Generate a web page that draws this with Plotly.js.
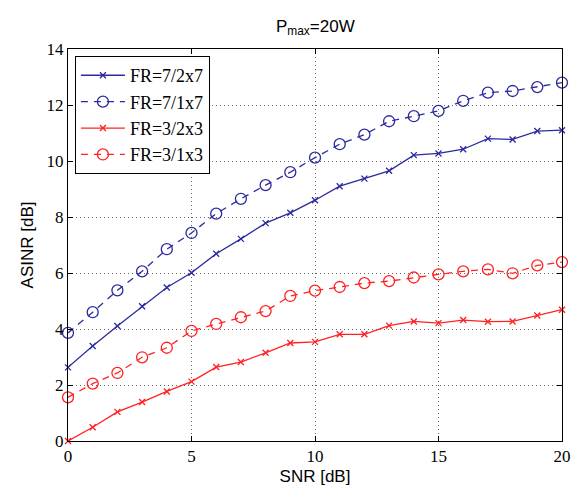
<!DOCTYPE html>
<html>
<head>
<meta charset="utf-8">
<script src="https://cdn.plot.ly/plotly-3.0.1.min.js"></script>
<style>html,body{margin:0;padding:0;background:#fff;}#chart{width:584px;height:494px;}</style>
</head>
<body>
<div id="chart"></div>
<script>
var snr = [0,1,2,3,4,5,6,7,8,9,10,11,12,13,14,15,16,17,18,19,20];
var fr72x7 = [2.63,3.39,4.11,4.81,5.48,6.01,6.69,7.22,7.78,8.15,8.6,9.1,9.37,9.65,10.21,10.27,10.42,10.8,10.77,11.07,11.1];
var fr71x7 = [3.86,4.6,5.38,6.06,6.85,7.43,8.12,8.65,9.14,9.6,10.12,10.6,10.94,11.42,11.6,11.79,12.15,12.44,12.5,12.64,12.8];
var fr32x3 = [0,0.49,1.04,1.39,1.77,2.12,2.64,2.82,3.15,3.5,3.54,3.81,3.81,4.12,4.27,4.21,4.32,4.26,4.27,4.48,4.69];
var fr31x3 = [1.56,2.05,2.43,2.99,3.33,3.93,4.18,4.42,4.64,5.18,5.37,5.5,5.64,5.71,5.84,5.95,6.06,6.13,5.99,6.27,6.39];
var seriesNames = ['FR=7/2x7','FR=7/1x7','FR=3/2x3','FR=3/1x3'];
var xTicks = [0,5,10,15,20];
var yTicks = [0,2,4,6,8,10,12,14];

var blue = '#2b2b9e', red = '#ff2222';
var serif = '"Liberation Serif", "Times New Roman", serif';
var sans = '"Liberation Sans", Arial, sans-serif';
function tr(y, name, color, dashed){
  return {
    x: snr, y: y, name: name, type: 'scatter', mode: 'lines+markers',
    line: {color: color, width: 1.3, dash: dashed ? '7px,6px' : 'solid'},
    marker: dashed ? {symbol: 'circle-open', size: 11, color: color, line: {width: 1.3, color: color}}
                   : {symbol: 'x-thin-open', size: 6, color: color, line: {width: 1.3, color: color}},
    cliponaxis: false
  };
}
var data = [
  tr(fr72x7, seriesNames[0], blue, false),
  tr(fr71x7, seriesNames[1], blue, true),
  tr(fr32x3, seriesNames[2], red, false),
  tr(fr31x3, seriesNames[3], red, true)
];
var axisCommon = {
  showline: true, linecolor: '#000', linewidth: 1, mirror: 'ticks',
  ticks: 'inside', ticklen: 5, tickcolor: '#000', tickwidth: 1,
  showgrid: true, gridcolor: '#666', griddash: '1px,3px', gridwidth: 1,
  zeroline: false,
  tickfont: {family: serif, size: 17, color: '#000'}
};
var layout = {
  width: 584, height: 494,
  margin: {l: 68, r: 22, t: 49, b: 53},
  paper_bgcolor: '#fff', plot_bgcolor: '#fff',
  title: {text: 'P<sub>max</sub>=20W', x: 0.54, xanchor: 'center', y: 0.948, yanchor: 'middle',
          font: {family: sans, size: 17, color: '#000'}},
  xaxis: Object.assign({}, axisCommon, {range: [0, 20], tickvals: xTicks,
    title: {text: 'SNR [dB]', standoff: 4, font: {family: sans, size: 17, color: '#000'}}}),
  yaxis: Object.assign({}, axisCommon, {range: [0, 14], tickvals: yTicks,
    title: {text: 'ASINR [dB]', standoff: 8, font: {family: sans, size: 17, color: '#000'}}}),
  legend: {x: 0.014, y: 0.982, xanchor: 'left', yanchor: 'top',
    bgcolor: '#fff', bordercolor: '#000', borderwidth: 1,
    font: {family: serif, size: 18, color: '#000'},
    tracegroupgap: 0, itemwidth: 44},
  showlegend: true
};
Plotly.newPlot('chart', data, layout, {displayModeBar: false, staticPlot: true});
</script>
</body>
</html>
